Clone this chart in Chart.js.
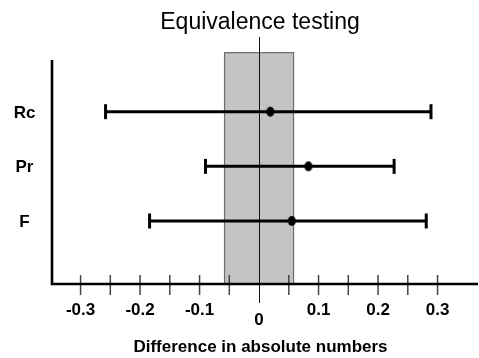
<!DOCTYPE html>
<html>
<head>
<meta charset="utf-8">
<script src="https://cdn.jsdelivr.net/npm/chart.js@4"></script>
<style>
html,body{margin:0;padding:0;background:#fff;}
#wrap{width:479px;height:358px;position:relative;}
</style>
</head>
<body>
<div id="wrap"><canvas id="c" width="479" height="358"></canvas></div>
<script>
// ---- data ----
const categories = ['Rc', 'Pr', 'F'];
const pointEstimates = [0.019, 0.083, 0.055];
const ciLower = [-0.258, -0.090, -0.184];
const ciUpper = [0.289, 0.227, 0.281];
const equivalenceBounds = [-0.058, 0.058];
const xTickLabels = ['-0.3', '-0.2', '-0.1', '0', '0.1', '0.2', '0.3'];
const xTickValues = [-0.3, -0.2, -0.1, 0, 0.1, 0.2, 0.3];
const xMinorTickValues = [-0.3, -0.25, -0.2, -0.15, -0.1, -0.05, 0.05, 0.1, 0.15, 0.2, 0.25, 0.3];
const chartTitle = 'Equivalence testing';
const xAxisTitle = 'Difference in absolute numbers';

const FONT = "'Liberation Sans', Arial, Helvetica, sans-serif";
const yPos = categories.map((c, i) => categories.length - i);

// ellipse marker
const dot = document.createElement('canvas');
dot.width = 10; dot.height = 12;
(function () {
  const g = dot.getContext('2d');
  g.fillStyle = '#000';
  g.beginPath();
  g.ellipse(5, 6, 4, 5, 0, 0, Math.PI * 2);
  g.fill();
})();

const datasets = [];
categories.forEach((c, i) => {
  datasets.push({
    type: 'line',
    label: c + ' CI',
    data: [{x: ciLower[i], y: yPos[i]}, {x: ciUpper[i], y: yPos[i]}],
    borderColor: '#000',
    borderWidth: 3,
    pointStyle: 'line',
    rotation: 90,
    pointRadius: 7.5,
    pointBorderWidth: 3,
    pointBorderColor: '#000',
    pointHoverRadius: 7.5,
    clip: false
  });
});
datasets.push({
  type: 'scatter',
  label: 'Estimate',
  data: categories.map((c, i) => ({x: pointEstimates[i], y: yPos[i]})),
  pointStyle: dot,
  pointRadius: 5,
  clip: false
});

const decor = {
  id: 'decor',
  beforeDatasetsDraw(chart) {
    const {ctx, chartArea, scales} = chart;
    const xs = scales.x, ys = scales.y;
    // equivalence band
    const x0 = xs.getPixelForValue(equivalenceBounds[0]);
    const x1 = xs.getPixelForValue(equivalenceBounds[1]);
    const yTop = ys.getPixelForValue(4.08);
    ctx.save();
    ctx.fillStyle = '#c4c4c4';
    ctx.fillRect(x0, yTop, x1 - x0, chartArea.bottom - yTop);
    ctx.strokeStyle = '#6e6e6e';
    ctx.lineWidth = 1.2;
    ctx.beginPath();
    ctx.moveTo(x0, chartArea.bottom);
    ctx.lineTo(x0, yTop);
    ctx.lineTo(x1, yTop);
    ctx.lineTo(x1, chartArea.bottom);
    ctx.stroke();
    // zero line
    const xz = Math.round(xs.getPixelForValue(0)) + 0.5;
    ctx.strokeStyle = '#111';
    ctx.lineWidth = 1;
    ctx.beginPath();
    ctx.moveTo(xz, chartArea.top);
    ctx.lineTo(xz, chartArea.bottom + 19);
    ctx.stroke();
    ctx.restore();
  },
  afterDatasetsDraw(chart) {
    const {ctx, chartArea, scales} = chart;
    const xs = scales.x, ys = scales.y;
    ctx.save();
    // minor ticks
    ctx.strokeStyle = '#444';
    ctx.lineWidth = 1.5;
    xMinorTickValues.forEach(v => {
      const px = xs.getPixelForValue(v);
      ctx.beginPath();
      ctx.moveTo(px, chartArea.bottom - 9);
      ctx.lineTo(px, chartArea.bottom + 11);
      ctx.stroke();
    });
    // axes
    ctx.strokeStyle = '#000';
    ctx.lineWidth = 2.6;
    ctx.beginPath();
    ctx.moveTo(chartArea.left, ys.getPixelForValue(3.946));
    ctx.lineTo(chartArea.left, chartArea.bottom);
    ctx.lineTo(chartArea.right, chartArea.bottom);
    ctx.stroke();
    // tick labels
    ctx.fillStyle = '#000';
    ctx.font = 'bold 17px ' + FONT;
    ctx.textAlign = 'center';
    ctx.textBaseline = 'alphabetic';
    xTickValues.forEach((v, i) => {
      const px = xs.getPixelForValue(v);
      ctx.fillText(xTickLabels[i], px, v === 0 ? 325 : 315);
    });
    // category labels
    categories.forEach((c, i) => {
      ctx.fillText(c, 24.5, ys.getPixelForValue(yPos[i]) + 6);
    });
    // axis title
    ctx.fillText(xAxisTitle, 260.5, 352);
    // chart title
    ctx.font = '23px ' + FONT;
    ctx.fillText(chartTitle, 260, 29);
    ctx.restore();
  }
};

new Chart(document.getElementById('c'), {
  type: 'scatter',
  data: {datasets},
  options: {
    responsive: false,
    animation: false,
    devicePixelRatio: 1,
    layout: {autoPadding: false, padding: {top: 37, left: 52, right: 1, bottom: 74}},
    plugins: {legend: {display: false}, tooltip: {enabled: false}, title: {display: false}},
    scales: {
      x: {type: 'linear', display: false, min: -0.348, max: 0.368},
      y: {type: 'linear', display: false, min: -0.153, max: 4.367}
    }
  },
  plugins: [decor]
});
</script>
</body>
</html>
